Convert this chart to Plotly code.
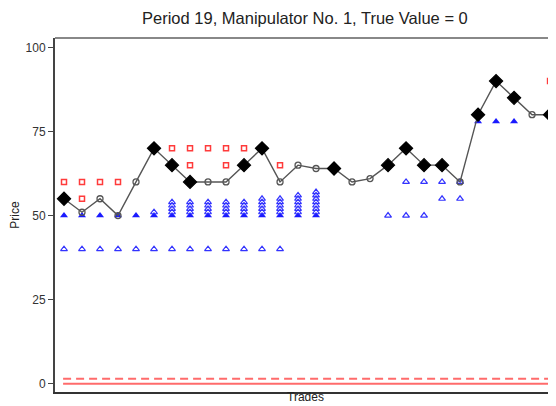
import plotly.graph_objects as go

# ---- data ----
trades = list(range(1, 29))
prices = [55, 51, 55, 50, 60, 70, 65, 60, 60, 60, 65, 70, 60, 65,
          64, 64, 60, 61, 65, 70, 65, 65, 60, 80, 90, 85, 80, 80]
manipulator_trade = [1, 0, 0, 0, 0, 1, 1, 1, 0, 0, 1, 1, 0, 0,
                     0, 1, 0, 0, 1, 1, 1, 1, 0, 1, 1, 1, 0, 1]

ask_trade = [1, 2, 2, 3, 4, 7, 8, 8, 9, 10, 10, 11, 13, 28]
ask_price = [60, 60, 55, 60, 60, 70, 70, 65, 70, 70, 65, 70, 65, 90]

bid_trade = (list(range(1, 14))
             + [6]
             + [7] * 4 + [8] * 4 + [9] * 4 + [10] * 4 + [11] * 4
             + [12] * 5 + [13] * 5
             + [14] * 6 + [15] * 7
             + [19, 20, 21, 20, 21, 22, 23, 22, 23])
bid_price = ([40] * 13
             + [51]
             + [51, 52, 53, 54] * 5
             + [51, 52, 53, 54, 55] * 2
             + [51, 52, 53, 54, 55, 56]
             + [51, 52, 53, 54, 55, 56, 57]
             + [50, 50, 50, 60, 60, 60, 60, 55, 55])

mbid_trade = list(range(1, 16)) + [24, 25, 26]
mbid_price = [50] * 15 + [78, 78, 78]

true_value = 0
ref_level = 1.5
line_span = [0.95, 28.05]

y_ticks = [0, 25, 50, 75, 100]

# ---- figure ----
fig = go.Figure()

fig.add_trace(go.Scatter(
    x=line_span, y=[true_value, true_value], mode="lines",
    line=dict(color="#ff6b6b", width=2), showlegend=False, hoverinfo="skip"))
fig.add_trace(go.Scatter(
    x=line_span, y=[ref_level, ref_level], mode="lines",
    line=dict(color="#ff6b6b", width=2, dash="8px,5px"),
    showlegend=False, hoverinfo="skip"))

fig.add_trace(go.Scatter(
    x=ask_trade, y=ask_price, mode="markers",
    marker=dict(symbol="square-open", size=5, color="#ff3b3b", opacity=1,
                line=dict(width=1.5, color="#ff3b3b")),
    showlegend=False))

fig.add_trace(go.Scatter(
    x=mbid_trade, y=mbid_price, mode="markers",
    marker=dict(symbol="triangle-up", size=7, color="#1a1aff", opacity=1),
    showlegend=False))

fig.add_trace(go.Scatter(
    x=bid_trade, y=bid_price, mode="markers",
    marker=dict(symbol="triangle-up-open", size=6, color="#3333ff", opacity=1,
                line=dict(width=1.2, color="#3333ff")),
    showlegend=False))

symbols = ["diamond" if m else "circle-open" for m in manipulator_trade]
sizes = [10 if m else 6 for m in manipulator_trade]
colors = ["#000000" if m else "#555555" for m in manipulator_trade]
fig.add_trace(go.Scatter(
    x=trades, y=prices, mode="lines+markers",
    line=dict(color="#555555", width=1.4),
    marker=dict(symbol=symbols, size=sizes, color=colors, opacity=1,
                line=dict(width=1.3, color=colors)),
    showlegend=False))

# top frame line
fig.add_shape(type="line", xref="paper", yref="paper", x0=0, x1=1, y0=1, y1=1,
              line=dict(color="#888888", width=2))

fig.update_layout(
    width=556, height=406,
    margin=dict(l=47, r=8, t=30, b=22),
    paper_bgcolor="white", plot_bgcolor="white",
    font=dict(family="Liberation Sans, Arial, sans-serif", color="#222222"),
    title=dict(text="Period 19, Manipulator No. 1, True Value = 0",
               x=0.534, xanchor="center", y=0.976, yanchor="middle",
               font=dict(size=16.5, color="#222222")),
    xaxis=dict(range=[0.5, 28.33], showgrid=False, zeroline=False,
               showticklabels=False, ticks="", automargin=False,
               showline=True, linecolor="#333333", linewidth=2,
               title=dict(text="Trades", font=dict(size=12), standoff=0)),
    yaxis=dict(range=[-2.45, 102.8], showgrid=False, zeroline=False,
               automargin=False,
               tickvals=y_ticks, ticks="outside", ticklen=5, tickwidth=1,
               tickcolor="#444444", tickfont=dict(size=12, color="#333333"),
               showline=True, linecolor="#444444", linewidth=2,
               title=dict(text="Price", font=dict(size=12), standoff=8)),
)

fig.write_html("out.html")
